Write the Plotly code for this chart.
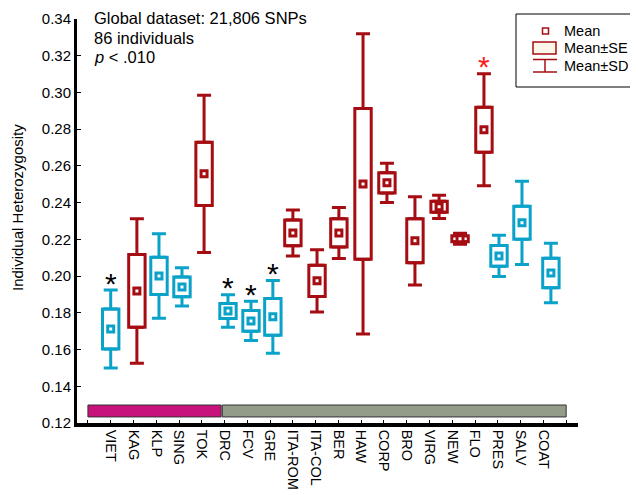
import plotly.graph_objects as go

# ---------------- data ----------------
groups = ["VIET", "KAG", "KLP", "SING", "TOK", "DRC", "FCV", "GRE", "ITA-ROM", "ITA-COL",
          "BER", "HAW", "CORP", "BRO", "VIRG", "NEW", "FLO", "PRES", "SALV", "COAT"]
# plotted x-positions of each group (category index, as drawn in the figure)
x_pos = [1.0, 2.15, 3.12, 4.13, 5.1, 6.15, 7.16, 8.12, 9.0, 10.06,
         11.02, 12.08, 13.13, 14.36, 15.42, 16.34, 17.39, 18.05, 19.06, 20.33]
means = [0.1712, 0.1919, 0.2001, 0.1941, 0.2557, 0.1810, 0.1756, 0.1778, 0.2235, 0.1974,
         0.2235, 0.2502, 0.2508, 0.2192, 0.2377, 0.2203, 0.2797, 0.2110, 0.2290, 0.2017]
se = [0.0109, 0.0198, 0.0101, 0.0054, 0.0172, 0.0041, 0.0057, 0.0100, 0.0070, 0.0085,
      0.0077, 0.0410, 0.0055, 0.0120, 0.0030, 0.0016, 0.0123, 0.0057, 0.0090, 0.0080]
sd = [0.0212, 0.0393, 0.0230, 0.0104, 0.0428, 0.0088, 0.0107, 0.0198, 0.0125, 0.0170,
      0.0139, 0.0818, 0.0107, 0.0240, 0.0063, 0.0030, 0.0305, 0.0112, 0.0227, 0.0162]
# "c" = cyan group, "r" = red group
group_class = ["c", "r", "c", "c", "r", "c", "c", "c", "r", "r",
               "r", "r", "r", "r", "r", "r", "r", "c", "c", "c"]
# significance asterisks
sig_black = ["VIET", "DRC", "FCV", "GRE"]
sig_red = ["FLO"]

y_ticks = [0.12, 0.14, 0.16, 0.18, 0.20, 0.22, 0.24, 0.26, 0.28, 0.30, 0.32, 0.34]
info_lines = ["Global dataset: 21,806 SNPs", "86 individuals", "<i>p</i> &lt; .010"]
legend_labels = ["Mean", "Mean±SE", "Mean±SD"]
y_title = "Individual Heterozygosity"

# ---------------- style ----------------
CYAN = "#0aa2c9"
RED = "#a50d12"
MAGENTA = "#c8127b"
GRAY = "#939b89"
FONT = "Liberation Sans, Arial, sans-serif"
colors = {"c": CYAN, "r": RED}

# page body has an 8px margin; figure is sized so the plot lands on the reference frame
OFF = 8
W, H = 638 - OFF, 495 - OFF
L, R, T, B = 77 - OFF, 578 - OFF, 19 - OFF, 423 - OFF

def px(x):  # reference-window pixel -> paper x
    return (x - OFF - L) / (R - L)
def py(y):  # reference-window pixel -> paper y
    return (B - (y - OFF)) / (B - T)

fig = go.Figure()

for cls in ["c", "r"]:
    idx = [i for i, c in enumerate(group_class) if c == cls]
    col = colors[cls]
    xs = [x_pos[i] for i in idx]
    fig.add_trace(go.Bar(
        x=xs,
        y=[2 * se[i] for i in idx],
        base=[means[i] - se[i] for i in idx],
        width=0.72,
        marker=dict(color="white", line=dict(color=col, width=3)),
        hoverinfo="skip", showlegend=False,
    ))

for cls in ["c", "r"]:
    idx = [i for i, c in enumerate(group_class) if c == cls]
    col = colors[cls]
    xs = [x_pos[i] for i in idx]
    fig.add_trace(go.Scatter(
        x=xs, y=[means[i] + se[i] for i in idx], mode="markers",
        marker=dict(size=0.1, color="rgba(0,0,0,0)"),
        error_y=dict(type="data", symmetric=False,
                     array=[sd[i] - se[i] for i in idx],
                     arrayminus=[0] * len(idx),
                     color=col, thickness=3, width=7),
        hoverinfo="skip", showlegend=False,
    ))
    fig.add_trace(go.Scatter(
        x=xs, y=[means[i] - se[i] for i in idx], mode="markers",
        marker=dict(size=0.1, color="rgba(0,0,0,0)"),
        error_y=dict(type="data", symmetric=False,
                     array=[0] * len(idx),
                     arrayminus=[sd[i] - se[i] for i in idx],
                     color=col, thickness=3, width=7),
        hoverinfo="skip", showlegend=False,
    ))
    fig.add_trace(go.Scatter(
        x=xs, y=[means[i] for i in idx], mode="markers",
        marker=dict(symbol="square", size=6, color="white", line=dict(color=col, width=3)),
        hoverinfo="skip", showlegend=False,
    ))

for g in sig_black + sig_red:
    i = groups.index(g)
    fig.add_annotation(
        x=x_pos[i], y=means[i] + sd[i], xref="x", yref="y",
        text="*", showarrow=False, yanchor="middle", yshift=7,
        font=dict(family=FONT, size=30, color="black" if g in sig_black else "#ff1a1a"),
    )

fig.add_shape(type="rect", xref="x", yref="y", x0=0, x1=5.85, y0=0.1233, y1=0.1298,
              fillcolor=MAGENTA, line=dict(color="#333333", width=1))
fig.add_shape(type="rect", xref="x", yref="y", x0=5.9, x1=21.0, y0=0.1233, y1=0.1298,
              fillcolor=GRAY, line=dict(color="#333333", width=1))

for line, yc in zip(info_lines, [17.5, 38, 57]):
    fig.add_annotation(x=px(92), y=py(yc), xref="paper", yref="paper", text=line,
                       showarrow=False, xanchor="left", yanchor="middle",
                       font=dict(family=FONT, size=16.5, color="black"))

fig.add_annotation(x=px(17), y=py(208), xref="paper", yref="paper", text=y_title,
                   textangle=-90, showarrow=False, xanchor="center", yanchor="middle",
                   font=dict(family=FONT, size=15, color="black"))

fig.add_shape(type="rect", xref="paper", yref="paper", x0=px(516), x1=px(634),
              y0=py(87), y1=py(14), line=dict(color="black", width=1), fillcolor="white")
fig.add_shape(type="rect", xref="paper", yref="paper", x0=px(542.5), x1=px(548.5),
              y0=py(34), y1=py(28), line=dict(color=RED, width=1.5), fillcolor="white")
fig.add_shape(type="rect", xref="paper", yref="paper", x0=px(533), x1=px(556),
              y0=py(54), y1=py(42), line=dict(color=RED, width=1.5), fillcolor="#fcf5e8")
for x0, x1, y0, y1 in [(533, 557, 59.5, 59.5), (533, 557, 72, 72), (545, 545, 59.5, 72)]:
    fig.add_shape(type="line", xref="paper", yref="paper", x0=px(x0), x1=px(x1),
                  y0=py(y0), y1=py(y1), line=dict(color=RED, width=1.5))
for lab, yc in zip(legend_labels, [31, 48, 66]):
    fig.add_annotation(x=px(562), y=py(yc), xref="paper", yref="paper", text=lab,
                       showarrow=False, xanchor="left", yanchor="middle",
                       font=dict(family=FONT, size=14.5, color="black"))

tick_pos = list(range(0, 22))
tick_text = [""] + groups + [""]

fig.update_layout(
    width=W, height=H,
    margin=dict(l=L, r=W - R, t=T, b=H - B, autoexpand=False),
    plot_bgcolor="white", paper_bgcolor="white",
    barmode="overlay",
    font=dict(family=FONT, size=14, color="black"),
    xaxis=dict(range=[-0.48, 21.52], tickvals=tick_pos, ticktext=tick_text,
               tickangle=90, ticks="inside", ticklen=3, tickwidth=1, tickcolor="black",
               showline=True, linewidth=3.5, linecolor="black", showgrid=False,
               zeroline=False, automargin=False, tickfont=dict(family=FONT, size=14.5)),
    yaxis=dict(range=[0.12, 0.34], tickvals=y_ticks, tickformat=".2f",
               ticks="inside", ticklen=4, tickwidth=1, tickcolor="black",
               showline=True, linewidth=3, linecolor="black", showgrid=False,
               zeroline=False, automargin=False, tickfont=dict(family=FONT, size=15)),
    showlegend=False,
)

fig.write_html("out.html")
